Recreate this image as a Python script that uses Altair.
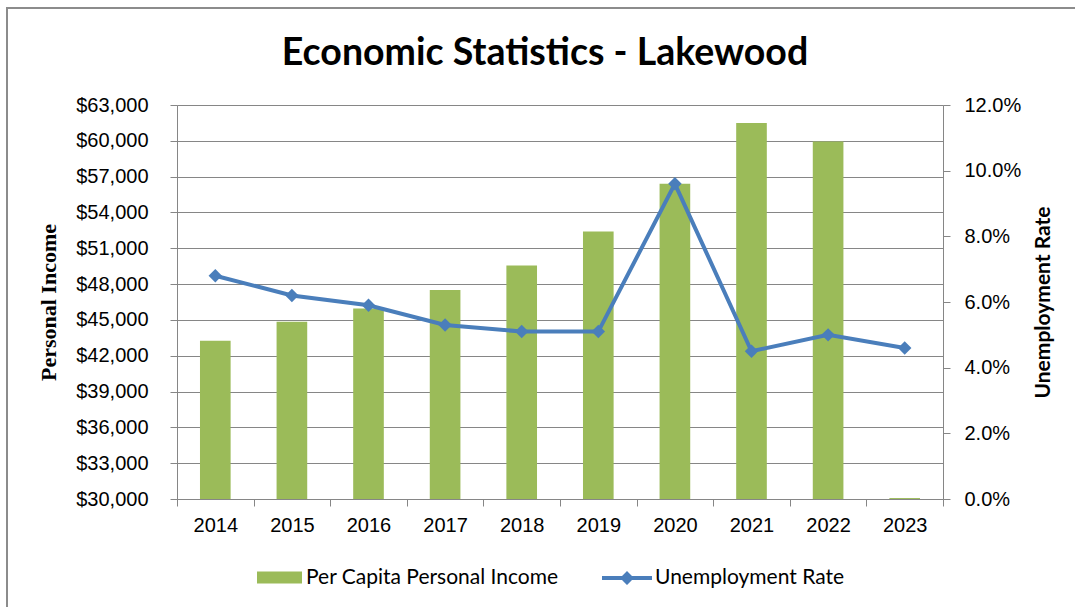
import altair as alt
import pandas as pd

years = ["2014", "2015", "2016", "2017", "2018", "2019", "2020", "2021", "2022", "2023"]
income = [43250, 44850, 45950, 47500, 49550, 52400, 56400, 61500, 59950, 30080]
unemployment = [0.068, 0.062, 0.059, 0.053, 0.051, 0.051, 0.096, 0.045, 0.050, 0.046]
income_ticks = [30000, 33000, 36000, 39000, 42000, 45000, 48000, 51000, 54000, 57000, 60000, 63000]
rate_ticks = [0.0, 0.02, 0.04, 0.06, 0.08, 0.10, 0.12]
income_label = "Per Capita Personal Income"
rate_label = "Unemployment Rate"

df = pd.DataFrame({
    "year": years,
    "income": income,
    "rate": unemployment,
    "s_income": [income_label] * len(years),
    "s_rate": [rate_label] * len(years),
})

GREEN = "#9bbb59"
BLUE = "#4a7ebb"
GRAY = "#868686"
FONT = "Lato"
LBL = 20

x_enc = alt.X(
    "year:O",
    sort=years,
    scale=alt.Scale(paddingInner=0, paddingOuter=0),
    axis=alt.Axis(
        title=None, labelAngle=0, tickBand="extent", grid=False, tickSize=7,
        labelPadding=9, labelFontSize=LBL, domainColor=GRAY, tickColor=GRAY,
    ),
)

bars = alt.Chart(df).mark_bar(width=alt.RelativeBandSize(0.4)).encode(
    x=x_enc,
    y=alt.Y(
        "income:Q",
        scale=alt.Scale(domain=[30000, 63000], nice=False, zero=False),
        axis=alt.Axis(
            values=income_ticks, format="$,.0f", title="Personal Income",
            titleFont="Liberation Serif", titleFontSize=22, titleFontWeight="bold",
            titlePadding=15, grid=True, gridColor="#868686", gridWidth=1.2,
            tickSize=7, labelPadding=22, labelFontSize=LBL,
            domainColor=GRAY, tickColor=GRAY,
        ),
    ),
    y2=alt.datum(30000),
    fill=alt.Fill(
        "s_income:N", title=None,
        scale=alt.Scale(domain=[income_label], range=[GREEN]),
        legend=alt.Legend(
            orient="none", legendX=80, legendY=450, padding=0,
            symbolType="M-1,-0.27H1V0.27H-1Z", symbolSize=2025, symbolStrokeWidth=0,
            labelFont=FONT, labelFontSize=21, labelOffset=4, labelColor="#000000",
            labelLimit=400,
        ),
    ),
)

y_rate = alt.Y(
    "rate:Q",
    scale=alt.Scale(domain=[0, 0.12], nice=False, zero=True),
    axis=alt.Axis(
        orient="right", values=rate_ticks, format=".1%", title=rate_label,
        titleAngle=270, titleBaseline="top", titleFont=FONT, titleFontSize=21,
        titleFontWeight="bold", titlePadding=12, grid=False, tickSize=7,
        labelPadding=14, labelFontSize=LBL, domainColor=GRAY, tickColor=GRAY,
    ),
)

line = alt.Chart(df).mark_line(color=BLUE, strokeWidth=4).encode(x=x_enc, y=y_rate)

points = alt.Chart(df).mark_point(shape="diamond", filled=True, size=180, opacity=1).encode(
    x=x_enc,
    y=y_rate,
    color=alt.Color(
        "s_rate:N", title=None,
        scale=alt.Scale(domain=[rate_label], range=[BLUE]),
        legend=alt.Legend(
            orient="none", legendX=425, legendY=448, padding=0,
            symbolType="M-1,-0.08H-0.2L0,-0.28L0.2,-0.08H1V0.08H0.2L0,0.28L-0.2,0.08H-1Z",
            symbolSize=2500, symbolStrokeWidth=0, symbolOpacity=1,
            labelFont=FONT, labelFontSize=21, labelOffset=3, labelColor="#000000",
            labelLimit=400,
        ),
    ),
)

frame = alt.Chart(alt.Data(values=[{"k": 1}])).mark_rect(
    fill="transparent", stroke="#8c8c8c", strokeWidth=2
).encode(
    x=alt.value(-170), y=alt.value(-97), x2=alt.value(920), y2=alt.value(520)
)

right = alt.layer(line, points)

chart = alt.layer(frame, bars, right).resolve_scale(
    y="independent"
).properties(
    width=766,
    height=394,
    padding={"left": 177, "top": 105, "right": 132, "bottom": 108},
    autosize=alt.AutoSizeParams(type="none"),
    title=alt.TitleParams(
        "Economic Statistics - Lakewood", font=FONT, fontSize=37.5, fontWeight="bold",
        anchor="middle", dx=-15, dy=65, offset=0, color="#000000",
    ),
).configure_view(
    strokeWidth=0
).configure_axis(
    labelFont=FONT, labelColor="#000000", titleColor="#000000"
).configure(background="white")

chart.save("out.html", embed_options={"renderer": "svg", "actions": False})
